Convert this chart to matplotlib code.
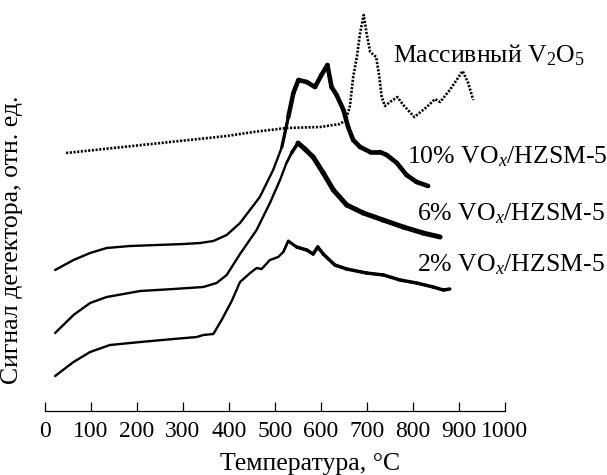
import matplotlib
matplotlib.use("Agg")
import matplotlib.pyplot as plt
import numpy as np

plt.rcParams['font.family'] = ['Liberation Serif', 'DejaVu Serif']
plt.rcParams['mathtext.fontset'] = 'custom'
plt.rcParams['mathtext.rm'] = 'Liberation Serif'
plt.rcParams['mathtext.it'] = 'Liberation Serif:italic'

# температура, °C и сигнал детектора (отн. ед.)
t_2 = [22, 62, 98, 141, 207, 279, 330, 344, 366, 384, 406, 424, 446, 460, 471, 489,
       507, 518, 529, 547, 569, 583, 593, 605, 630, 656, 699, 736, 772, 808, 844,
       866, 880]
s_2 = [35, 49, 59, 66, 69, 72, 74, 76, 77, 91, 110, 129, 138, 143, 142, 151,
       154, 159, 170, 164, 161, 157, 164, 157, 146, 142, 138, 136, 131, 128, 124,
       121, 122]

t_6 = [22, 62, 98, 134, 207, 279, 344, 373, 395, 424, 460, 489, 511, 525, 536, 550,
       565, 583, 605, 627, 656, 692, 735, 779, 822, 859]
s_6 = [78, 96, 108, 114, 120, 122, 124, 128, 136, 157, 181, 208, 231, 248, 258, 268,
       262, 254, 238, 221, 206, 198, 191, 184, 178, 174]

t_10 = [22, 62, 98, 134, 185, 243, 301, 337, 366, 395, 424, 467, 496, 515, 529, 540,
        551, 569, 587, 601, 614, 623, 634, 649, 659, 670, 685, 707, 728, 743, 765,
        786, 808, 833]
s_10 = [141, 151, 158, 163, 165, 166, 167, 168, 170, 176, 188, 214, 241, 264, 294, 318,
        331, 329, 324, 336, 346, 324, 316, 301, 284, 271, 264, 259, 259, 256, 248,
        236, 229, 225]

# массивный V2O5
t_v2o5 = [46, 395, 453, 525, 598, 641, 654, 663, 670, 678, 685, 693, 699, 707, 720,
          727, 732, 739, 750, 766, 779, 803, 830, 848, 859, 880, 908, 920, 931]
s_v2o5 = [258, 275, 279, 283, 284, 287, 291, 305, 334, 354, 378, 396, 378, 359, 354,
          334, 314, 305, 309, 314, 306, 294, 304, 312, 309, 321, 340, 328, 311]

xticks = list(range(0, 1001, 100))

fig = plt.figure(figsize=(6.07, 4.75), dpi=100)
ax = fig.add_axes([0.0741, 0.1347, 0.7578, 0.8653])


def draw_curve(t, s, start, w_max):
    # линия толще в области пика, как на исходном рисунке
    t = np.array(t)
    s = np.array(s)
    ax.plot(t, s, color='black', lw=1.7, solid_capstyle='round', solid_joinstyle='round')
    for i in range(len(t) - 1):
        if t[i] < start:
            continue
        k = min(1.0, (t[i] - start) / 25.0)
        lw = 1.7 + (w_max - 1.7) * k
        ax.plot(t[i:i + 2], s[i:i + 2], color='black', lw=lw,
                solid_capstyle='round', solid_joinstyle='round')


draw_curve(t_2, s_2, 515, 2.5)
draw_curve(t_6, s_6, 525, 3.6)
draw_curve(t_10, s_10, 505, 3.3)

ax.plot(t_v2o5, s_v2o5, color='black', lw=1.9, linestyle=(0, (0.8, 0.6)))

fs = 18.5
ax.text(757, 349, 'Массивный V$_2$O$_5$', fontsize=fs, va='baseline', ha='left')
ax.text(787, 248, '10% VO$_x$/HZSM-5', fontsize=fs, va='baseline', ha='left')
ax.text(808, 191, '6% VO$_x$/HZSM-5', fontsize=fs, va='baseline', ha='left')
ax.text(808, 140, '2% VO$_x$/HZSM-5', fontsize=fs, va='baseline', ha='left')

ax.set_xlim(0, 1000)
ax.set_ylim(0, 411)
ax.set_xticks(xticks)
ax.set_xticklabels([str(v) for v in xticks], fontsize=17)
ax.set_yticks([])
for side in ['top', 'right', 'left']:
    ax.spines[side].set_visible(False)
ax.spines['bottom'].set_linewidth(0.9)
ax.tick_params(axis='x', direction='in', length=6.5, width=0.9, pad=7)
ax.patch.set_alpha(0)

fig.text(310 / 607, 0.0105, 'Температура, °С', fontsize=fs, ha='center', va='baseline')
fig.text(12 / 607, 0.495, 'Сигнал детектора, отн. ед.', fontsize=fs, rotation=90,
         ha='center', va='center')

fig.savefig('out.png', dpi=100)
